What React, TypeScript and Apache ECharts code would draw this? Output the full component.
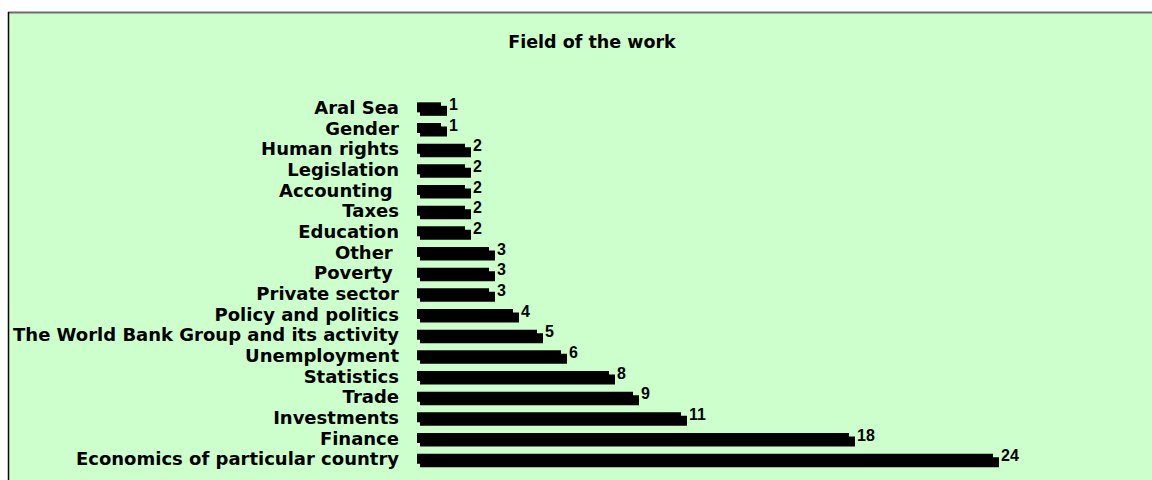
import React, { useEffect, useRef } from "react";
import * as echarts from "echarts";

const titleText = "Field of the work";
const categories = [
  "Aral Sea",
  "Gender",
  "Human rights",
  "Legislation",
  "Accounting ",
  "Taxes",
  "Education",
  "Other ",
  "Poverty ",
  "Private sector",
  "Policy and politics",
  "The World Bank Group and its activity",
  "Unemployment",
  "Statistics",
  "Trade",
  "Investments",
  "Finance",
  "Economics of particular country",
];
const counts = [1, 1, 2, 2, 2, 2, 2, 3, 3, 3, 4, 5, 6, 8, 9, 11, 18, 24];

export default function App() {
  const ref = useRef<HTMLDivElement>(null);
  useEffect(() => {
    if (!ref.current) return;
    const chart = echarts.init(ref.current, null, { renderer: "svg" });
    chart.setOption({
      animation: false,
      backgroundColor: "#ffffff",
      graphic: [
        {
          type: "rect",
          z: -10,
          shape: { x: 8, y: 12, width: 1144, height: 468 },
          style: { fill: "#CCFFCC" },
          silent: true,
        },
        {
          type: "line",
          z: -9,
          shape: { x1: 8, y1: 12.5, x2: 1152, y2: 12.5 },
          style: { stroke: "#6e6e6e", lineWidth: 2 },
          silent: true,
        },
        {
          type: "line",
          z: -9,
          shape: { x1: 8.5, y1: 12, x2: 8.5, y2: 480 },
          style: { stroke: "#000000", lineWidth: 1.5 },
          silent: true,
        },
      ],
      title: {
        text: titleText,
        left: 587,
        top: 28,
        textAlign: "center",
        textStyle: {
          fontFamily: "DejaVu Sans",
          fontWeight: "bold",
          fontSize: 17.5,
          color: "#000000",
        },
      },
      grid: { left: 417, right: 15, top: 97, bottom: 11, containLabel: false },
      xAxis: {
        type: "value",
        min: 0,
        max: 30,
        show: false,
      },
      yAxis: {
        type: "category",
        data: categories,
        inverse: true,
        axisLine: { show: false },
        axisTick: { show: false },
        splitLine: { show: false },
        axisLabel: {
          interval: 0,
          margin: 18,
          color: "#000000",
          fontFamily: "DejaVu Sans",
          fontWeight: "bold",
          fontSize: 18,
          verticalAlign: "middle",
          padding: [0, 0, 5, 0],
        },
      },
      series: [
        {
          type: "custom",
          name: "shadow",
          z: 1,
          data: counts.map((v, i) => [v, i]),
          encode: { x: 0, y: 1 },
          renderItem: (params: any, api: any) => {
            const v = api.value(0);
            const idx = api.value(1);
            const end = api.coord([v, idx]);
            const start = api.coord([0, idx]);
            return {
              type: "rect",
              shape: {
                x: start[0] + 3,
                y: end[1] - 1.5,
                width: end[0] - start[0] + 3,
                height: 10,
              },
              style: { fill: "#000000" },
            };
          },
          silent: true,
        },
        {
          type: "bar",
          name: "Field of the work",
          z: 2,
          data: counts,
          barWidth: 10,
          itemStyle: { color: "#000000" },
          label: {
            show: true,
            position: "right",
            distance: 8,
            offset: [0, -3],
            color: "#000000",
            fontFamily: "Liberation Sans",
            fontWeight: "bold",
            fontSize: 16,
          },
        },
      ],
    });
    return () => chart.dispose();
  }, []);
  return (
    <div
      ref={ref}
      style={{ position: "absolute", left: 0, top: 0, width: 1152, height: 480 }}
    />
  );
}
